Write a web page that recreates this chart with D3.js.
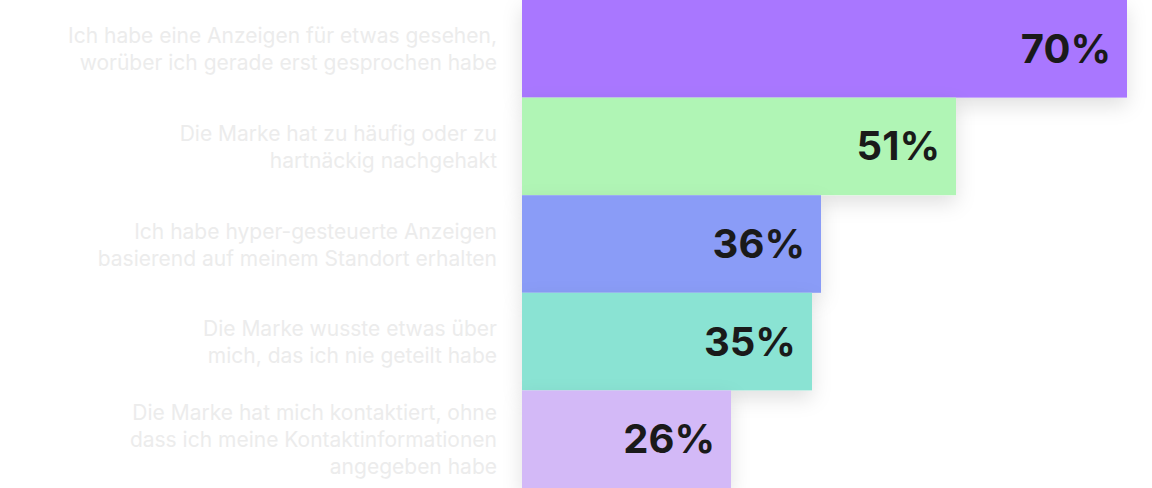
<!DOCTYPE html>
<html><head><meta charset="utf-8">
<script src="https://cdn.jsdelivr.net/npm/d3@7"></script>
<style>body{margin:0;background:#fff}</style>
</head><body>
<svg id="chart" width="1152" height="488"></svg>
<script>
var labels = [
  ["Ich habe eine Anzeigen für etwas gesehen,", "worüber ich gerade erst gesprochen habe"],
  ["Die Marke hat zu häufig oder zu", "hartnäckig nachgehakt"],
  ["Ich habe hyper-gesteuerte Anzeigen", "basierend auf meinem Standort erhalten"],
  ["Die Marke wusste etwas über", "mich, das ich nie geteilt habe"],
  ["Die Marke hat mich kontaktiert, ohne", "dass ich meine Kontaktinformationen", "angegeben habe"]
];
var values = [70, 51, 36, 35, 26];
var colors = ["#a977ff", "#b0f5b5", "#8a9cf7", "#8ae3d3", "#d3b9f7"];

var svg = d3.select("#chart");
var defs = svg.append("defs");
var f = defs.append("filter").attr("id", "sh").attr("x", "-10%").attr("y", "-20%").attr("width", "130%").attr("height", "160%");
f.append("feDropShadow").attr("dx", 0).attr("dy", 8).attr("stdDeviation", 10).attr("flood-color", "#000").attr("flood-opacity", 0.12);

var x0 = 522;
var x = d3.scaleLinear().domain([25 / 9, 70]).range([0, 605]);
var y = d3.scaleBand().domain(d3.range(values.length)).range([0, 488]).padding(0);

var g = svg.selectAll("g.row").data(values).enter().append("g").attr("class", "row");
g.append("rect")
  .attr("x", x0).attr("y", (d, i) => y(i))
  .attr("width", d => x(d)).attr("height", y.bandwidth())
  .attr("fill", (d, i) => colors[i])
  .attr("filter", "url(#sh)");
g.append("text")
  .attr("x", d => x0 + x(d) - 16).attr("y", (d, i) => y(i) + y.bandwidth() / 2 + 14)
  .attr("text-anchor", "end")
  .attr("font-family", "Inter, sans-serif").attr("font-weight", 700).attr("font-size", 40)
  .attr("fill", "#1a1a1a")
  .text(d => d + "%");

labels.forEach(function (lines, i) {
  var cy = y(i) + y.bandwidth() / 2;
  var lh = 27;
  var start = cy - (lines.length - 1) * lh / 2 + 8;
  var t = svg.append("text")
    .attr("text-anchor", "end")
    .attr("font-family", "Inter, sans-serif").attr("font-size", 21)
    .attr("fill", "#ececec");
  lines.forEach(function (l, j) {
    t.append("tspan").attr("x", 497).attr("y", start + j * lh).text(l);
  });
});
</script>
</body></html>
